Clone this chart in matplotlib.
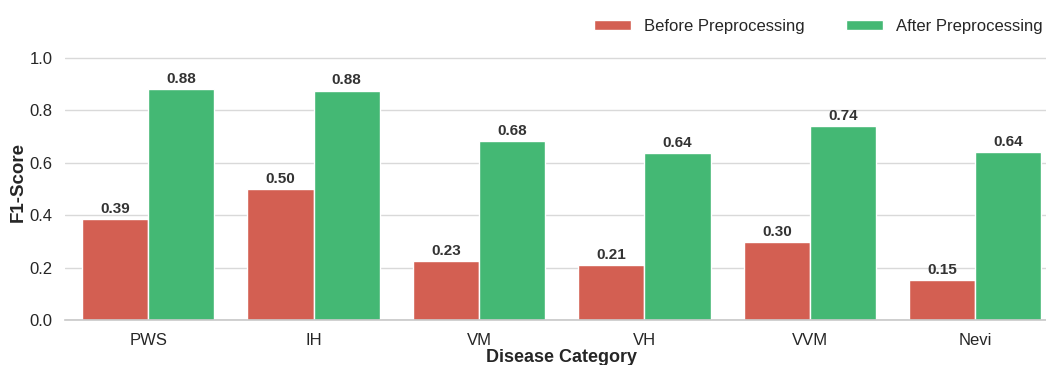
import numpy as np
import matplotlib
matplotlib.use("Agg")
import matplotlib.pyplot as plt
import seaborn as sns

sns.set_theme(style="whitegrid")
plt.rcParams['font.family'] = ['Liberation Sans', 'DejaVu Sans']

# --- data ---
categories = ['PWS', 'IH', 'VM', 'VH', 'VVM', 'Nevi']
before = [0.385, 0.499, 0.226, 0.209, 0.298, 0.153]
after = [0.882, 0.876, 0.682, 0.636, 0.740, 0.641]
series_names = ['Before Preprocessing', 'After Preprocessing']
colors = ['#D35F52', '#44B874']

fig = plt.figure(figsize=(10.46, 3.65), dpi=100)
# axes run slightly past the right edge, as in the cropped original
ax = fig.add_axes([0.0625, 0.123, 0.949, 0.754])

x = np.arange(len(categories))
w = 0.4
b1 = ax.bar(x - w / 2, before, w, color=colors[0], edgecolor='white', linewidth=1, label=series_names[0])
b2 = ax.bar(x + w / 2, after, w, color=colors[1], edgecolor='white', linewidth=1, label=series_names[1])

for bars in (b1, b2):
    for r in bars:
        h = r.get_height()
        ax.text(r.get_x() + r.get_width() / 2, h + 0.012, f'{h:.2f}',
                ha='center', va='bottom', fontsize=11, fontweight='bold', color='#333333')

ax.set_xlim(-0.5, len(categories) - 0.5)
ax.set_ylim(0, 1.05)
ax.set_yticks([0.0, 0.2, 0.4, 0.6, 0.8, 1.0])
ax.set_xticks(x)
ax.set_xticklabels(categories)
ax.tick_params(axis='both', labelsize=12, colors='#262626', pad=3)
ax.xaxis.grid(False)
ax.yaxis.grid(True, color='#d9d9d9', linewidth=1)

ax.set_ylabel('F1-Score', fontsize=13.5, fontweight='bold', color='#262626', labelpad=2)
ax.set_xlabel('Disease Category', fontsize=13, fontweight='bold', color='#262626', labelpad=1)

for s in ['left', 'top', 'right']:
    ax.spines[s].set_visible(False)
ax.spines['bottom'].set_color('#c8c8c8')
ax.spines['bottom'].set_linewidth(1.2)

ax.legend(loc='lower right', bbox_to_anchor=(1.0, 0.985), ncol=2, frameon=False,
          fontsize=12, handlelength=2.2, handleheight=0.6, columnspacing=2.5)

fig.savefig('out.png', dpi=100)
